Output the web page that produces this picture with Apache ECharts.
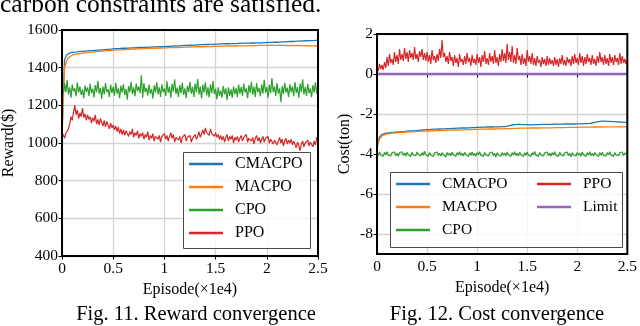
<!DOCTYPE html>
<html>
<head>
<meta charset="utf-8">
<script src="https://cdn.jsdelivr.net/npm/echarts@6/dist/echarts.min.js"></script>
<style>
html, body { margin: 0; padding: 0; background: #fff; }
#chart { width: 640px; height: 326px; }
</style>
</head>
<body>
<div id="chart"></div>
<script>
// episode axis (x1e4): smooth curves every 0.025, noisy curves every 0.0125
var episodes = Array.from({ length: 101 }, function (_, i) { return +(i * 0.025).toFixed(4); });
var episodesFine = Array.from({ length: 201 }, function (_, i) { return +(i * 0.0125).toFixed(4); });
var xTicks = [0, 0.5, 1, 1.5, 2, 2.5];
var rewardTicks = [400, 600, 800, 1000, 1200, 1400, 1600];
var costTicks = [-8, -6, -4, -2, 0, 2];

// Fig. 11 reward
var rewardCMACPO = [1060, 1445, 1470, 1477, 1481, 1483, 1484, 1486, 1487, 1488, 1489, 1490, 1491, 1492, 1493, 1494, 1495, 1496, 1497, 1498,
  1500, 1501, 1501, 1502, 1503, 1503, 1504, 1505, 1505, 1506, 1507, 1507, 1508, 1508, 1509, 1509, 1510, 1510, 1511, 1511,
  1512, 1513, 1513, 1514, 1515, 1516, 1516, 1517, 1518, 1518, 1519, 1520, 1520, 1521, 1522, 1522, 1523, 1523, 1524, 1524,
  1525, 1525, 1526, 1526, 1527, 1527, 1528, 1528, 1528, 1529, 1529, 1530, 1530, 1530, 1531, 1531, 1532, 1532, 1532, 1533,
  1533, 1534, 1534, 1535, 1535, 1536, 1537, 1537, 1538, 1539, 1539, 1540, 1541, 1541, 1542, 1543, 1543, 1544, 1544, 1545, 1545];
var rewardMACPO = [1040, 1400, 1445, 1458, 1466, 1470, 1473, 1475, 1477, 1479, 1480, 1482, 1483, 1485, 1486, 1487, 1488, 1489, 1490, 1491,
  1493, 1494, 1494, 1495, 1496, 1497, 1497, 1498, 1499, 1499, 1500, 1500, 1501, 1501, 1502, 1502, 1503, 1503, 1504, 1504,
  1505, 1505, 1506, 1506, 1507, 1507, 1508, 1508, 1509, 1509, 1510, 1510, 1510, 1511, 1511, 1511, 1512, 1512, 1512, 1513,
  1513, 1513, 1514, 1514, 1514, 1515, 1515, 1515, 1515, 1516, 1516, 1516, 1516, 1517, 1517, 1517, 1517, 1518, 1518, 1518,
  1518, 1518, 1519, 1518, 1518, 1519, 1518, 1518, 1517, 1518, 1517, 1517, 1518, 1517, 1517, 1516, 1517, 1516, 1516, 1517, 1516];
var rewardCPO = [1300, 1262, 1318, 1270, 1335, 1258, 1296, 1240, 1310, 1275, 1290, 1248, 1322, 1268, 1300, 1255, 1285, 1238, 1305, 1272,
  1295, 1250, 1315, 1265, 1288, 1242, 1308, 1270, 1330, 1262, 1292, 1235, 1300, 1258, 1318, 1270, 1285, 1245, 1310, 1266,
  1298, 1252, 1320, 1262, 1290, 1238, 1305, 1268, 1312, 1255, 1288, 1230, 1302, 1270, 1325, 1260, 1295, 1248, 1315, 1275,
  1300, 1265, 1360, 1240, 1318, 1270, 1292, 1252, 1310, 1262, 1286, 1236, 1306, 1268, 1322, 1258, 1296, 1245, 1312, 1270,
  1290, 1250, 1328, 1266, 1300, 1240, 1314, 1272, 1338, 1260, 1294, 1245, 1308, 1265, 1320, 1255, 1290, 1238, 1305, 1270,
  1325, 1262, 1298, 1245, 1316, 1270, 1340, 1258, 1300, 1236, 1310, 1268, 1322, 1252, 1296, 1242, 1312, 1265, 1330, 1260,
  1288, 1232, 1296, 1250, 1280, 1240, 1302, 1258, 1290, 1228, 1296, 1250, 1285, 1240, 1300, 1260, 1292, 1245, 1310, 1262,
  1298, 1250, 1316, 1268, 1290, 1238, 1308, 1266, 1325, 1256, 1300, 1245, 1318, 1270, 1292, 1248, 1312, 1262, 1335, 1268,
  1296, 1240, 1310, 1265, 1345, 1270, 1300, 1250, 1318, 1262, 1290, 1218, 1302, 1260, 1320, 1268, 1294, 1245, 1312, 1270,
  1300, 1248, 1324, 1266, 1296, 1240, 1316, 1270, 1338, 1258, 1298, 1250, 1314, 1264, 1290, 1244, 1308, 1268, 1322, 1262,
  1300];
var rewardPPO = [1030, 1045, 1025, 1050, 1040, 1075, 1100, 1140, 1120, 1165, 1200, 1150, 1175, 1130, 1160, 1140, 1185, 1135, 1155, 1120,
  1150, 1125, 1140, 1105, 1135, 1115, 1150, 1100, 1125, 1095, 1130, 1110, 1090, 1120, 1085, 1115, 1095, 1075, 1105, 1080,
  1095, 1070, 1090, 1060, 1085, 1050, 1075, 1045, 1070, 1040, 1065, 1055, 1035, 1060, 1045, 1075, 1030, 1055, 1040, 1065,
  1025, 1050, 1035, 1055, 1020, 1045, 1030, 1060, 1015, 1040, 1025, 1050, 1010, 1035, 1045, 1020, 1040, 1005, 1035, 1025,
  1050, 1020, 1040, 1010, 1035, 1055, 1025, 1045, 1005, 1030, 1040, 1015, 1035, 1000, 1030, 1020, 1045, 1010, 1030, 1020,
  1040, 1005, 1025, 1015, 1045, 1020, 1035, 1060, 1030, 1050, 1070, 1045, 1080, 1055, 1065, 1040, 1075, 1050, 1060, 1035,
  1055, 1030, 1045, 1020, 1040, 1015, 1035, 1005, 1030, 1045, 1010, 1035, 1020, 1040, 1000, 1030, 1015, 1035, 1005, 1025,
  1040, 1010, 1030, 1020, 1045, 1005, 1025, 1035, 1010, 1030, 995, 1025, 1040, 1010, 1030, 1000, 1020, 1035, 1005, 1025,
  1015, 1035, 1000, 1020, 1030, 995, 1015, 1025, 990, 1010, 1030, 1000, 1020, 985, 1010, 1025, 995, 1015, 1000, 1020,
  990, 1010, 1000, 975, 1005, 985, 960, 995, 1010, 980, 1000, 990, 1015, 985, 1005, 995, 980, 1010, 990, 1030,
  1015];

// Fig. 12 cost
var costCMACPO = [-3.6, -3.15, -3.02, -2.98, -2.95, -2.94, -2.92, -2.92, -2.9, -2.89, -2.88, -2.88, -2.86, -2.85, -2.84, -2.84, -2.82, -2.82, -2.8, -2.79,
  -2.78, -2.78, -2.77, -2.76, -2.76, -2.75, -2.74, -2.74, -2.73, -2.73, -2.72, -2.72, -2.71, -2.71, -2.7, -2.7, -2.69, -2.69, -2.68, -2.68,
  -2.67, -2.67, -2.66, -2.66, -2.65, -2.65, -2.65, -2.64, -2.64, -2.64, -2.63, -2.63, -2.61, -2.58, -2.55, -2.53, -2.52, -2.52, -2.53, -2.53,
  -2.53, -2.54, -2.54, -2.53, -2.53, -2.53, -2.52, -2.52, -2.52, -2.52, -2.52, -2.51, -2.51, -2.51, -2.51, -2.5, -2.5, -2.5, -2.5, -2.5,
  -2.49, -2.49, -2.49, -2.48, -2.48, -2.47, -2.45, -2.42, -2.39, -2.37, -2.36, -2.36, -2.37, -2.37, -2.38, -2.38, -2.39, -2.4, -2.41, -2.42, -2.43];
var costMACPO = [-3.7, -3.25, -3.1, -3.04, -3.0, -2.98, -2.96, -2.95, -2.94, -2.93, -2.92, -2.91, -2.9, -2.89, -2.89, -2.88, -2.87, -2.87, -2.86, -2.86,
  -2.85, -2.85, -2.84, -2.84, -2.83, -2.83, -2.82, -2.82, -2.81, -2.81, -2.8, -2.8, -2.8, -2.79, -2.79, -2.79, -2.78, -2.78, -2.78, -2.77,
  -2.77, -2.77, -2.76, -2.76, -2.76, -2.75, -2.75, -2.75, -2.74, -2.74, -2.74, -2.73, -2.73, -2.73, -2.72, -2.72, -2.72, -2.71, -2.71, -2.71,
  -2.71, -2.7, -2.7, -2.7, -2.7, -2.7, -2.69, -2.69, -2.69, -2.69, -2.69, -2.68, -2.68, -2.68, -2.68, -2.68, -2.67, -2.67, -2.67, -2.67,
  -2.67, -2.66, -2.66, -2.66, -2.66, -2.66, -2.65, -2.65, -2.65, -2.65, -2.65, -2.64, -2.64, -2.64, -2.64, -2.64, -2.64, -2.63, -2.64, -2.64, -2.64];
var costCPO = [-3.95, -4.08, -3.9, -4.05, -3.98, -4.12, -3.92, -4.04, -3.88, -4.06, -3.96, -4.1, -3.93, -4.02, -3.9, -4.08, -3.97, -4.11, -3.94, -4.03,
  -3.89, -4.06, -3.95, -4.1, -3.92, -4.04, -3.98, -4.13, -3.91, -4.05, -3.96, -4.09, -3.9, -4.02, -3.95, -4.1, -3.93, -4.06, -3.86, -4.03,
  -3.97, -4.11, -3.92, -4.05, -3.99, -4.12, -3.94, -4.03, -3.9, -4.07, -3.96, -4.1, -3.93, -4.04, -3.98, -4.14, -3.92, -4.06, -3.95, -4.09,
  -3.91, -4.04, -3.97, -4.12, -3.93, -4.05, -3.88, -4.07, -3.96, -4.1, -3.92, -4.03, -3.98, -4.13, -3.94, -4.06, -3.9, -4.08, -3.97, -4.11,
  -3.93, -4.04, -3.89, -4.06, -3.98, -4.12, -3.92, -4.05, -3.96, -4.1, -3.94, -4.02, -3.9, -4.08, -3.97, -4.15, -3.93, -4.05, -3.99, -4.11,
  -3.92, -4.06, -3.95, -4.1, -3.9, -4.04, -3.97, -4.12, -3.93, -4.05, -3.88, -4.08, -3.96, -4.1, -3.92, -4.03, -3.98, -4.13, -3.94, -4.06,
  -3.9, -4.07, -3.97, -4.11, -3.93, -4.04, -3.87, -4.06, -3.96, -4.12, -3.92, -4.05, -3.98, -4.1, -3.94, -4.03, -3.9, -4.08, -3.96, -4.11,
  -3.93, -4.05, -3.89, -4.07, -3.98, -4.12, -3.92, -4.04, -3.96, -4.1, -3.94, -4.02, -3.9, -4.08, -3.97, -4.14, -3.93, -4.05, -3.99, -4.1,
  -3.92, -4.06, -3.95, -4.11, -3.9, -4.04, -3.97, -4.12, -3.93, -4.05, -3.88, -4.08, -3.96, -4.1, -3.92, -4.03, -3.98, -4.13, -3.94, -4.06,
  -3.91, -4.07, -3.97, -4.1, -3.93, -4.04, -3.89, -4.06, -3.96, -4.12, -3.92, -4.05, -3.98, -4.09, -3.94, -4.03, -3.9, -4.08, -3.96, -4.02,
  -3.98];
var costPPO = [0.35, 0.15, 0.5, 0.25, 0.45, 0.2, 0.6, 0.3, 0.85, 0.4, 1.0, 0.55, 0.75, 0.45, 1.1, 0.6, 0.95, 0.5, 1.25, 0.7,
  1.0, 0.65, 1.3, 0.75, 1.1, 0.6, 1.2, 0.8, 1.05, 0.7, 1.35, 0.75, 1.0, 0.6, 1.15, 0.85, 1.25, 0.7, 1.05, 0.65,
  1.1, 0.6, 0.95, 0.5, 1.2, 0.7, 0.9, 0.55, 1.0, 0.65, 1.25, 0.8, 1.7, 0.85, 1.05, 0.6, 0.9, 0.5, 1.1, 0.65,
  0.85, 0.4, 0.95, 0.55, 0.8, 0.35, 1.0, 0.6, 0.75, 0.45, 0.9, 0.5, 1.05, 0.6, 0.8, 0.4, 0.95, 0.55, 0.75, 0.45,
  1.0, 0.55, 0.85, 0.35, 0.95, 0.6, 1.15, 0.5, 0.8, 0.45, 1.05, 0.6, 0.9, 0.5, 1.2, 0.55, 0.85, 0.4, 1.0, 0.6,
  1.25, 0.65, 1.05, 0.55, 1.5, 0.7, 1.1, 0.6, 1.4, 0.55, 0.95, 0.5, 1.3, 0.7, 0.9, 0.45, 1.0, 0.5, 0.8, 0.4,
  1.2, 0.6, 0.9, 0.5, 1.05, 0.45, 0.8, 0.4, 0.9, 0.55, 0.7, 0.35, 0.85, 0.5, 0.75, 0.4, 0.9, 0.45, 0.8, 0.5,
  0.7, 0.4, 0.85, 0.45, 0.75, 0.35, 0.8, 0.5, 0.95, 0.45, 0.7, 0.4, 0.85, 0.55, 0.75, 0.4, 0.9, 0.5, 1.0, 0.55,
  0.8, 0.45, 1.05, 0.55, 0.9, 0.4, 0.85, 0.5, 1.0, 0.6, 0.8, 0.45, 0.95, 0.5, 0.75, 0.4, 0.9, 0.55, 1.1, 0.6,
  0.85, 0.45, 0.95, 0.5, 0.8, 0.4, 1.0, 0.55, 0.85, 0.45, 0.95, 0.6, 0.8, 0.45, 1.05, 0.5, 0.9, 0.55, 0.75, 0.5,
  0.7];
var limitEpisodes = [0, 2.5];
var costLimit = [0, 0];

var colors = { CMACPO: '#1f77b4', MACPO: '#ff7f0e', CPO: '#2ca02c', PPO: '#d62728', Limit: '#9467bd' };
var serif = 'Liberation Serif';

function pairs(xs, ys) {
  return ys.map(function (v, i) { return [xs[i], v]; });
}
function line(name, xs, ys, idx, width) {
  return {
    name: name, type: 'line', xAxisIndex: idx, yAxisIndex: idx,
    data: pairs(xs, ys), showSymbol: false, symbol: 'none',
    lineStyle: { color: colors[name], width: width || 1.3 },
    itemStyle: { color: colors[name] }
  };
}
function plain(v) { return String(v); }
function xAxisOf(idx) {
  return {
    type: 'value', gridIndex: idx, min: 0, max: 2.5, interval: 0.5,
    name: 'Episode(×1e4)', nameLocation: 'middle', nameGap: 25,
    nameTextStyle: { fontFamily: serif, fontSize: 16, color: '#000' },
    axisLine: { show: false },
    axisTick: { show: true, inside: false, length: 3.5, lineStyle: { color: '#000', width: 1 } },
    axisLabel: { fontFamily: serif, fontSize: 15.5, color: '#000', margin: 5, formatter: plain },
    splitLine: { show: true, lineStyle: { color: '#d4d4d4', width: 1.3 } }
  };
}
function yAxisOf(idx, min, max, ticks, name, gap) {
  return {
    type: 'value', gridIndex: idx, min: min, max: max,
    name: name, nameLocation: 'middle', nameGap: gap, nameRotate: 90,
    nameTextStyle: { fontFamily: serif, fontSize: 16, color: '#000' },
    axisLine: { show: false },
    axisTick: { show: true, length: 3.5, lineStyle: { color: '#000' }, customValues: ticks },
    axisLabel: { fontFamily: serif, fontSize: 15.5, color: '#000', margin: 4, customValues: ticks, formatter: plain },
    splitLine: { show: true, lineStyle: { color: '#d4d4d4', width: 1.3 } }
  };
}
function legendOf(names, left, top, size) {
  return {
    data: names, orient: 'vertical', left: left, top: top, padding: 0,
    itemWidth: 34, itemHeight: 2.5, itemGap: 7, icon: 'rect', z: 20,
    selectedMode: false,
    textStyle: { fontFamily: serif, fontSize: size, color: '#000', lineHeight: 16, padding: [0, 0, 0, 7] }
  };
}

var chart = echarts.init(document.getElementById('chart'), null, { renderer: 'canvas' });
chart.setOption({
  animation: false,
  backgroundColor: '#fff',
  textStyle: { fontFamily: serif },
  grid: [
    { left: 62, top: 30, width: 256, height: 226, show: true, borderColor: '#000', borderWidth: 2, backgroundColor: 'transparent', z: 5 },
    { left: 377, top: 34, width: 254, height: 220, show: true, borderColor: '#000', borderWidth: 2, backgroundColor: 'transparent', z: 5 }
  ],
  xAxis: [xAxisOf(0), xAxisOf(1)],
  yAxis: [
    yAxisOf(0, 400, 1600, rewardTicks, 'Reward($)', 45),
    yAxisOf(1, -9, 2, costTicks, 'Cost(ton)', 24)
  ],
  legend: [
    legendOf(['CMACPO', 'MACPO', 'CPO', 'PPO'], 189, 156, 16),
    legendOf(['CMACPO', 'MACPO', 'CPO'], 396, 176, 15.5),
    legendOf(['PPO', 'Limit'], 537, 176, 15.5)
  ],
  graphic: [
    { type: 'rect', z: 15, silent: true, shape: { x: 183.5, y: 152.5, width: 127, height: 96 },
      style: { fill: 'rgba(255,255,255,0.8)', stroke: '#4a4a4a', lineWidth: 1 } },
    { type: 'rect', z: 15, silent: true, shape: { x: 390.5, y: 172.5, width: 232, height: 75 },
      style: { fill: 'rgba(255,255,255,0.8)', stroke: '#4a4a4a', lineWidth: 1 } },
    { type: 'text', z: 20, x: 0, y: 18, style: { text: 'carbon constraints are satisfied.', font: '25.5px "Liberation Serif"', fill: '#000', textAlign: 'left', textVerticalAlign: 'bottom', verticalAlign: 'bottom' } },
    { type: 'text', z: 20, x: 196, y: 315, style: { text: 'Fig. 11. Reward convergence', font: '20.5px "Liberation Serif"', fill: '#000', textAlign: 'center', textVerticalAlign: 'middle', verticalAlign: 'middle' } },
    { type: 'text', z: 20, x: 497, y: 315, style: { text: 'Fig. 12. Cost convergence', font: '20.5px "Liberation Serif"', fill: '#000', textAlign: 'center', textVerticalAlign: 'middle', verticalAlign: 'middle' } }
  ],
  series: [
    line('CMACPO', episodes, rewardCMACPO, 0),
    line('MACPO', episodes, rewardMACPO, 0),
    line('CPO', episodesFine, rewardCPO, 0, 1.2),
    line('PPO', episodesFine, rewardPPO, 0, 1.2),
    line('CMACPO', episodes, costCMACPO, 1),
    line('MACPO', episodes, costMACPO, 1),
    line('CPO', episodesFine, costCPO, 1, 1.2),
    line('PPO', episodesFine, costPPO, 1, 1.2),
    line('Limit', limitEpisodes, costLimit, 1, 2.5)
  ]
});
</script>
</body>
</html>
